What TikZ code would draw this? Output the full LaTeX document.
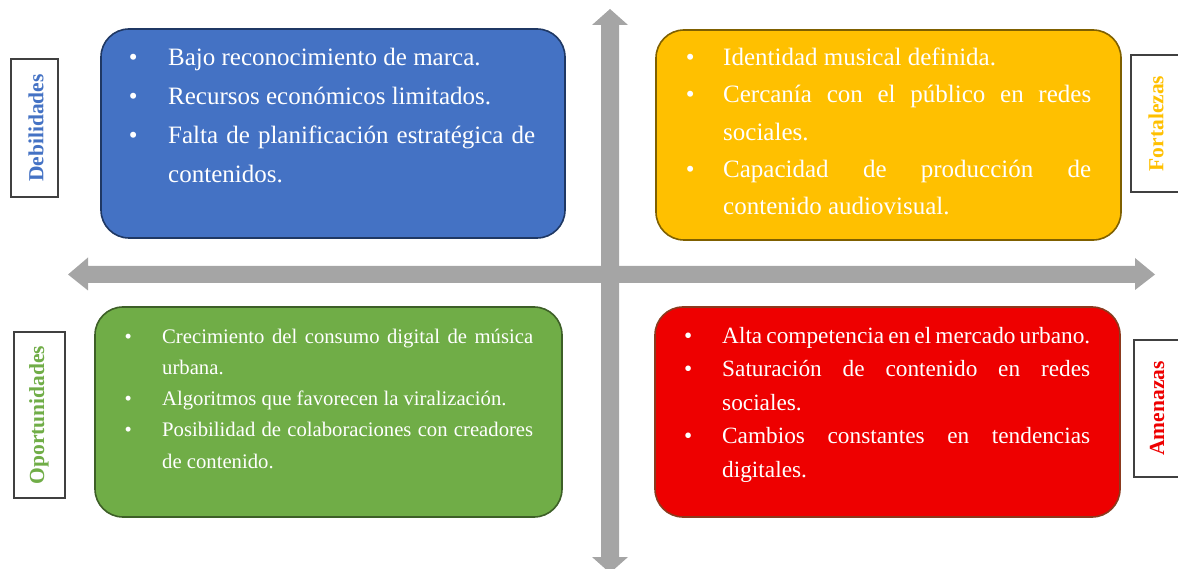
\documentclass[tikz,border=0pt]{standalone}
\usepackage{fontspec}
\setmainfont{Liberation Serif}
\definecolor{blueF}{HTML}{4472C4}
\definecolor{blueD}{HTML}{1F3864}
\definecolor{yelF}{HTML}{FFC000}
\definecolor{yelD}{HTML}{7F6000}
\definecolor{grnF}{HTML}{70AD47}
\definecolor{grnD}{HTML}{3D5F27}
\definecolor{redF}{HTML}{EE0000}
\definecolor{redD}{HTML}{8B3A1E}
\definecolor{arrowG}{HTML}{A5A5A5}
\definecolor{lblD}{HTML}{404040}
\newcommand{\bitem}[2]{{\hangindent=#1\hangafter=1\noindent\makebox[#1][l]{\textbullet}#2\par}}
\tikzset{
  quad/.style={draw, line width=1.6pt, rounded corners=28pt},
  itemtext/.style={anchor=north west, inner sep=0pt, text=white, align=justify},
  sidebox/.style={draw=lblD, line width=1.3pt, fill=white},
  sidelabel/.style={rotate=90, font=\fontsize{21.5}{24}\selectfont\bfseries},
}
\begin{document}
\begin{tikzpicture}[x=1pt,y=-1pt]
\useasboundingbox (0,0) rectangle (1178,569);
\clip (0,0) rectangle (1178,569);
% axes arrows
\fill[arrowG] (68,274.5) -- (88,257.5) -- (88,266) -- (1135,266) -- (1135,258) -- (1155,274.5) -- (1135,290) -- (1135,283) -- (88,283) -- (88,290.5) -- cycle;
\fill[arrowG] (610,9) -- (628,25) -- (619,25) -- (619,557) -- (628,557) -- (610,573) -- (592,557) -- (601,557) -- (601,25) -- (592,25) -- cycle;
% quadrants
\draw[quad, draw=blueD, fill=blueF] (101,29) rectangle (565,238);
\draw[quad, draw=yelD, fill=yelF] (656,30) rectangle (1121,240);
\draw[quad, draw=grnD, fill=grnF] (95,307) rectangle (562,517);
\draw[quad, draw=redD, fill=redF] (655,307) rectangle (1120,517);
% texts
\node[itemtext, text width=406.4pt, font=\fontsize{25}{39}\selectfont] (tD) at (128.6,45.5) {\tolerance=10000\hyphenpenalty=10000\rule{0pt}{20pt}%
\bitem{39.4pt}{Bajo reconocimiento de marca.}
\bitem{39.4pt}{Recursos económicos limitados.}
\bitem{39.4pt}{Falta de planificación estratégica de\linebreak contenidos.}};
\node[itemtext, text width=405.4pt, font=\fontsize{25}{37.25}\selectfont] (tF) at (685.6,45.5) {\tolerance=10000\hyphenpenalty=10000\rule{0pt}{20pt}%
\bitem{37.4pt}{Identidad musical definida.}
\bitem{37.4pt}{Cercanía con el público en redes\linebreak sociales.}
\bitem{37.4pt}{Capacidad de producción de\linebreak contenido audiovisual.}};
\node[itemtext, text width=408.6pt, font=\fontsize{20.7}{31.25}\selectfont] (tO) at (124.4,326.4) {\tolerance=10000\hyphenpenalty=10000\rule{0pt}{16.6pt}%
\bitem{37.6pt}{Crecimiento del consumo digital de música\linebreak urbana.}
\bitem{37.6pt}{Algoritmos que favorecen la viralización.}
\bitem{37.6pt}{Posibilidad de colaboraciones con creadores\linebreak de contenido.}};
\node[itemtext, text width=406.1pt, font=\fontsize{23.3}{33.5}\selectfont] (tA) at (683.9,324.4) {\tolerance=10000\hyphenpenalty=10000\rule{0pt}{18.6pt}%
\bitem{38.1pt}{Alta competencia en el mercado urbano.}
\bitem{38.1pt}{Saturación de contenido en redes\linebreak sociales.}
\bitem{38.1pt}{Cambios constantes en tendencias\linebreak digitales.}};
% side labels
\draw[sidebox] (11,59) rectangle (58,197);
\node[sidelabel, text=blueF] (lD) at (36,128) {Debilidades};
\draw[sidebox] (1131,55) rectangle (1190,192);
\node[sidelabel, text=yelF] (lF) at (1156,123.5) {Fortalezas};
\draw[sidebox] (14,332) rectangle (65,498);
\node[sidelabel, text=grnF] (lO) at (39,415) {Oportunidades};
\draw[sidebox] (1134,340) rectangle (1190,477);
\node[sidelabel, text=redF] (lA) at (1157,408.5) {Amenazas};
\end{tikzpicture}
\end{document}
